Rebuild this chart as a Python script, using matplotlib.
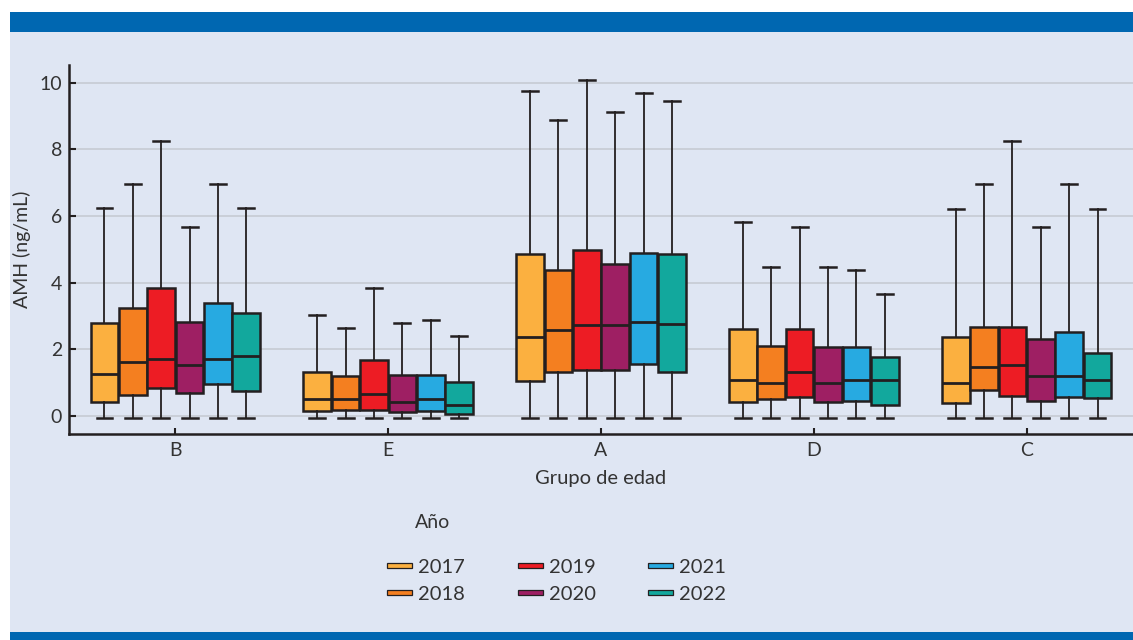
import matplotlib
matplotlib.use("Agg")
import matplotlib.pyplot as plt
from matplotlib.patches import Rectangle, Patch

# age groups (x categories) and years (series)
groups = ["B", "E", "A", "D", "C"]
years = ["2017", "2018", "2019", "2020", "2021", "2022"]
colors = ["#fbb040", "#f47f20", "#ed1c24", "#9e1f63", "#27aae1", "#12a89d"]

# box statistics per year, one value per group (B, E, A, D, C)
whis_lo = {
    "2017": [-0.05, -0.05, -0.05, -0.05, -0.05],
    "2018": [-0.05, -0.05, -0.05, -0.05, -0.05],
    "2019": [-0.05, -0.05, -0.05, -0.05, -0.05],
    "2020": [-0.05, -0.05, -0.05, -0.05, -0.05],
    "2021": [-0.05, -0.05, -0.05, -0.05, -0.05],
    "2022": [-0.05, -0.05, -0.05, -0.05, -0.05],
}
q1 = {
    "2017": [0.43, 0.15, 1.06, 0.41, 0.38],
    "2018": [0.63, 0.19, 1.31, 0.51, 0.77],
    "2019": [0.85, 0.18, 1.39, 0.56, 0.59],
    "2020": [0.68, 0.12, 1.39, 0.43, 0.46],
    "2021": [0.95, 0.14, 1.55, 0.46, 0.58],
    "2022": [0.75, 0.06, 1.33, 0.34, 0.53],
}
med = {
    "2017": [1.25, 0.52, 2.36, 1.07, 0.98],
    "2018": [1.63, 0.52, 2.58, 1.00, 1.47],
    "2019": [1.70, 0.66, 2.73, 1.31, 1.54],
    "2020": [1.53, 0.41, 2.73, 1.00, 1.21],
    "2021": [1.70, 0.52, 2.82, 1.07, 1.21],
    "2022": [1.80, 0.34, 2.75, 1.07, 1.07],
}
q3 = {
    "2017": [2.80, 1.31, 4.86, 2.60, 2.37],
    "2018": [3.25, 1.21, 4.39, 2.11, 2.66],
    "2019": [3.85, 1.67, 4.98, 2.62, 2.66],
    "2020": [2.81, 1.22, 4.57, 2.07, 2.31],
    "2021": [3.38, 1.22, 4.89, 2.07, 2.53],
    "2022": [3.08, 1.03, 4.86, 1.78, 1.90],
}
whis_hi = {
    "2017": [6.23, 3.03, 9.76, 5.83, 6.22],
    "2018": [6.96, 2.63, 8.88, 4.47, 6.95],
    "2019": [8.24, 3.84, 10.08, 5.67, 8.24],
    "2020": [5.67, 2.80, 9.12, 4.47, 5.66],
    "2021": [6.96, 2.87, 9.68, 4.39, 6.95],
    "2022": [6.23, 2.39, 9.44, 3.67, 6.22],
}

plt.rcParams["font.family"] = ["Lato", "DejaVu Sans"]
txt = "#333333"
edge = "#231f20"
bg = "#dfe6f3"
band = "#0067b1"

fig = plt.figure(figsize=(11.33, 6.4), dpi=100)
fig.patch.set_facecolor("white")
# panel background and blue bands
fig.add_artist(Rectangle((10 / 1133, 0), 1, 1 - 12 / 640, transform=fig.transFigure,
                         facecolor=bg, edgecolor="none", zorder=-10))
fig.add_artist(Rectangle((10 / 1133, 1 - 32 / 640), 1, 20 / 640, transform=fig.transFigure,
                         facecolor=band, edgecolor="none", zorder=-9))
fig.add_artist(Rectangle((10 / 1133, 0), 1, 8 / 640, transform=fig.transFigure,
                         facecolor=band, edgecolor="none", zorder=-9))

ax = fig.add_axes([69 / 1133, 206 / 640, 1064 / 1133, 369 / 640])
ax.set_facecolor("none")

step = 0.1333
for j, yr in enumerate(years):
    stats = []
    for i in range(len(groups)):
        stats.append({"whislo": whis_lo[yr][i], "q1": q1[yr][i], "med": med[yr][i],
                      "q3": q3[yr][i], "whishi": whis_hi[yr][i], "fliers": []})
    pos = [i + (j - 2.5) * step for i in range(len(groups))]
    ax.bxp(stats, positions=pos, widths=0.13, patch_artist=True, showfliers=False,
           capwidths=0.075, manage_ticks=False,
           boxprops=dict(facecolor=colors[j], edgecolor=edge, linewidth=1.8),
           medianprops=dict(color=edge, linewidth=2.0),
           whiskerprops=dict(color=edge, linewidth=1.3),
           capprops=dict(color=edge, linewidth=1.8))

ax.set_xlim(-0.5, 4.5)
ax.set_ylim(-0.54, 10.53)
ax.set_yticks([0, 2, 4, 6, 8, 10])
ax.set_xticks(range(len(groups)))
ax.set_xticklabels(groups)
ax.yaxis.grid(True, color="#c4c8d0", linewidth=1.1)
ax.set_axisbelow(True)
for s in ["top", "right"]:
    ax.spines[s].set_visible(False)
for s in ["left", "bottom"]:
    ax.spines[s].set_color(edge)
    ax.spines[s].set_linewidth(1.8)
ax.tick_params(axis="y", direction="in", length=5, width=1.5, color=edge, pad=5,
               labelsize=14, labelcolor=txt)
ax.tick_params(axis="x", direction="in", length=4.5, width=1.5, color=edge, pad=6,
               labelsize=14, labelcolor=txt)
ax.set_xlabel("Grupo de edad", fontsize=14.5, color=txt, labelpad=8)
ax.set_ylabel("AMH (ng/mL)", fontsize=14, color=txt, labelpad=6)

handles = [Patch(facecolor=c, edgecolor=edge, linewidth=0.9, label=y) for c, y in zip(colors, years)]
leg = fig.legend(handles=handles, ncol=3, loc="upper left", bbox_to_anchor=(377 / 1133, 1 - 549 / 640),
                 frameon=False, fontsize=14.5, handlelength=1.25, handleheight=0.02,
                 handletextpad=0.3, columnspacing=2.6, labelspacing=0.5, borderpad=0)
for t in leg.get_texts():
    t.set_color(txt)
fig.text(415 / 1133, 1 - 522 / 640, "Año", fontsize=14, color=txt, va="center", ha="left")

fig.savefig("out.png", dpi=100)
